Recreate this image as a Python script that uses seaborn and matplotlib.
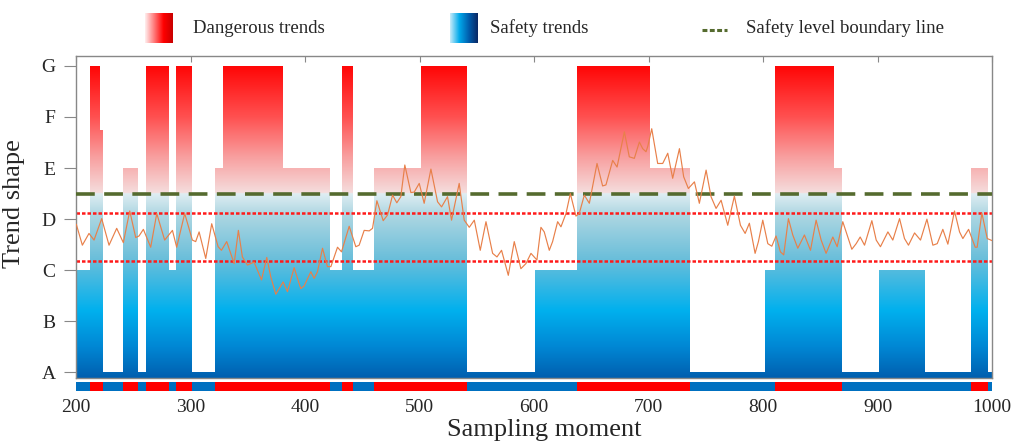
import numpy as np
import matplotlib
matplotlib.use("Agg")
import matplotlib.pyplot as plt
import seaborn as sns

sns.set_style("white")
plt.rcParams['font.family'] = ['Liberation Serif', 'DejaVu Serif']

# step levels of the trend shape (A=1 ... G=7), each level holds from its start x to the next
step_x = [200, 212, 221, 223.5, 240.5, 254, 261, 281, 287.5, 301.5, 321, 328, 381, 421.5,
          432.5, 441.5, 460.5, 501.5, 541.5, 601, 637, 701, 736, 801.5, 810, 861.5, 868.5,
          901.5, 941.5, 982, 996.5]
step_level = [3, 7, 5.75, 1, 5, 1, 7, 3, 7, 1, 5, 7, 5, 3,
              7, 3, 5, 7, 1, 3, 7, 5, 1, 3, 7, 5, 1,
              3, 1, 5, 1]

# sampled trend value (orange curve)
line_x = [200, 205.3, 211.1, 215.5, 222.2, 228.6, 235.3, 241.1, 246.7, 251.9, 254.8, 258.6,
          265.0, 270.3, 277.2, 284.0, 287.7, 294.7, 301.4, 304.3, 307.3, 313.1, 318.3, 323.9,
          326.8, 331.4, 337.9, 341.6, 345.1, 349.5, 355.3, 361.8, 366.4, 369.9, 374.3, 380.7,
          384.5, 390.3, 396.1, 399.0, 404.9, 407.8, 410.7, 415.1, 419.4, 422.4, 428.2, 431.7,
          438.4, 444.2, 447.1, 451.5, 455.9, 458.8, 462.6, 468.1, 471.9, 476.3, 480.0, 483.5,
          487.0, 492.3, 495.2, 499.6, 503.9, 509.8, 515.6, 519.1, 524.3, 527.8, 534.5, 538.9,
          543.3, 547.7, 552.9, 557.9, 563.7, 567.5, 571.5, 577.4, 582.6, 588.4, 592.8, 597.2,
          602.4, 605.9, 608.8, 613.2, 616.1, 620.5, 623.4, 627.8, 631.6, 636.5, 639.4, 643.8,
          648.2, 654.9, 659.8, 662.7, 668.6, 672.4, 678.8, 683.1, 687.5, 691.9, 694.8, 697.7,
          699.2, 702.7, 707.9, 712.3, 716.7, 721.0, 726.9, 730.6, 734.7, 740.0, 744.3, 750.2,
          754.5, 758.9, 763.3, 769.1, 774.9, 780.2, 784.3, 788.0, 793.0, 795.9, 799.7, 804.1,
          807.6, 811.3, 815.1, 818.0, 822.1, 825.9, 830.3, 836.1, 841.4, 846.3, 850.7, 855.0,
          860.9, 864.7, 869.6, 874.0, 877.5, 881.3, 884.8, 888.6, 895.0, 898.8, 902.5, 909.0,
          913.3, 919.2, 923.5, 927.0, 932.3, 937.5, 943.1, 948.3, 952.1, 957.0, 961.4, 967.2,
          971.6, 974.5, 979.5, 985.3, 987.0, 991.1, 995.8, 1000]
line_y = [3.90, 3.49, 3.72, 3.59, 4.01, 3.49, 3.82, 3.54, 4.16, 3.64, 3.67, 3.80,
          3.45, 4.11, 3.59, 3.78, 3.45, 4.11, 3.59, 3.56, 3.75, 3.23, 3.91, 3.46,
          3.39, 3.56, 3.13, 3.78, 3.26, 3.10, 3.16, 2.81, 3.25, 2.87, 2.53, 2.77,
          2.58, 3.05, 2.64, 2.69, 2.97, 2.84, 2.97, 3.43, 3.07, 3.07, 3.45, 3.36,
          3.86, 3.46, 3.49, 3.78, 3.77, 3.82, 4.36, 3.97, 4.08, 4.47, 4.32, 4.44,
          5.06, 4.52, 4.53, 4.70, 4.31, 4.98, 4.34, 4.24, 4.44, 3.98, 4.70, 3.98,
          3.84, 3.98, 3.39, 3.95, 3.33, 3.26, 3.39, 2.90, 3.56, 3.03, 3.13, 3.33,
          3.20, 3.84, 3.75, 3.39, 3.56, 3.95, 3.85, 4.11, 4.50, 4.06, 4.11, 4.47,
          4.31, 5.09, 4.65, 4.67, 5.15, 5.02, 5.71, 5.22, 5.19, 5.51, 5.38, 5.32,
          5.42, 5.77, 5.09, 5.09, 5.29, 4.80, 5.38, 4.83, 4.60, 4.73, 4.31, 4.96,
          4.44, 4.21, 4.37, 3.88, 4.45, 3.88, 3.72, 3.92, 3.33, 3.56, 3.98, 3.52,
          3.47, 3.67, 3.36, 3.30, 4.01, 3.69, 3.43, 3.69, 3.39, 3.98, 3.59, 3.33,
          3.65, 3.46, 3.95, 3.65, 3.41, 3.52, 3.65, 3.49, 3.97, 3.59, 3.46, 3.75,
          3.59, 4.01, 3.62, 3.49, 3.73, 3.59, 4.00, 3.49, 3.52, 3.80, 3.51, 4.16,
          3.75, 3.62, 3.80, 3.45, 3.45, 4.12, 3.62, 3.58]

shape_labels = ["A", "B", "C", "D", "E", "F", "G"]
boundary = 4.5
limit_upper = 4.12
limit_lower = 3.19

x_min, x_max = 200, 1000
y_min, y_max = 0.89, 7.2

fig = plt.figure(figsize=(10.24, 4.41), dpi=100)
ax = fig.add_axes([0.0745, 0.1429, 0.8943, 0.7308])
ax_strip = fig.add_axes([0.0745, 0.1134, 0.8943, 0.0204])

# vertical gradient: blue below the boundary, pink to red above it
stops_y = [y_min, 1.5, 2.2, 3.2, 4.1, 4.499, 4.501, 5.2, 6.0, 7.0, y_max]
stops_c = np.array([(0, 95, 175), (0, 135, 212), (0, 176, 238), (105, 190, 218),
                    (175, 215, 226), (224, 238, 243), (245, 222, 222), (248, 160, 160),
                    (255, 80, 80), (255, 5, 5), (255, 0, 0)]) / 255.0
yy = np.linspace(y_min, y_max, 800)
grad = np.stack([np.interp(yy, stops_y, stops_c[:, k]) for k in range(3)], axis=-1)
grad = grad[:, None, :]

xs = step_x + [x_max]
ys = step_level + [step_level[-1]]
coll = ax.fill_between(xs, y_min, ys, step='post', facecolor='none', edgecolor='none')
im = ax.imshow(grad, extent=[x_min, x_max, y_min, y_max], origin='lower',
               aspect='auto', interpolation='bilinear', zorder=1)
im.set_clip_path(coll.get_paths()[0], transform=ax.transData)

ax.axhline(limit_upper, color='#ff1a1a', lw=1.8, ls=(0, (1.4, 0.8)), zorder=2)
ax.axhline(limit_lower, color='#ff1a1a', lw=1.8, ls=(0, (1.4, 0.8)), zorder=2)
ax.axhline(boundary, color='#556b2f', lw=2.6, ls=(0, (5.2, 2.6)), zorder=3)

sns.lineplot(x=line_x, y=line_y, ax=ax, color='#e8804a', lw=0.85, zorder=4)

ax.set_xlim(x_min, x_max)
ax.set_ylim(y_min, y_max)
ax.set_yticks(range(1, 8))
ax.set_yticklabels(shape_labels)
ax.set_xticks(range(200, 1001, 100))
ax.tick_params(axis='x', direction='in', top=True, bottom=True, labelbottom=False,
               length=4, color='#888888')
ax.tick_params(axis='y', direction='out', left=True, length=9, color='#888888',
               labelsize=14, pad=6)
for s in ax.spines.values():
    s.set_color('#888888')
    s.set_linewidth(1.0)
ax.set_ylabel("Trend shape", fontsize=19)
ax.yaxis.set_label_coords(-0.056, 0.54)

# bottom strip: red where the shape is above the boundary, blue otherwise
seg_end = step_x[1:] + [x_max]
for x0, x1, lv in zip(step_x, seg_end, step_level):
    ax_strip.bar(x0, 1, width=x1 - x0, align='edge',
                 color='#ff0000' if lv > boundary else '#0070c0', linewidth=0)
ax_strip.set_xlim(x_min, x_max)
ax_strip.set_ylim(0, 1)
ax_strip.set_yticks([])
ax_strip.set_xticks(range(200, 1001, 100))
ax_strip.tick_params(axis='x', length=0, labelsize=14, pad=6)
for s in ax_strip.spines.values():
    s.set_visible(False)
ax_strip.set_xlabel("Sampling moment", fontsize=19, labelpad=2)
ax_strip.xaxis.label.set_x(0.511)

# legend across the top
red_leg = np.array([(255, 240, 240), (255, 120, 120), (255, 0, 0), (200, 0, 0)]) / 255.0
blue_leg = np.array([(200, 236, 250), (0, 170, 235), (0, 95, 175), (10, 40, 100)]) / 255.0
t = np.linspace(0, 1, 200)
for left, cols in [(0.1416, red_leg), (0.4395, blue_leg)]:
    lax = fig.add_axes([left, 0.9025, 0.0273, 0.068])
    pos = np.linspace(0, 1, len(cols))
    g = np.stack([np.interp(t, pos, cols[:, k]) for k in range(3)], axis=-1)[None, :, :]
    lax.imshow(g, aspect='auto', interpolation='bilinear')
    lax.axis('off')
fig.text(0.1885, 0.936, "Dangerous trends", fontsize=13.5, va='center')
fig.text(0.4785, 0.936, "Safety trends", fontsize=13.5, va='center')
fig.add_artist(plt.Line2D([0.6855, 0.710], [0.932, 0.932], color='#556b2f', lw=2.2,
                          ls=(0, (1.6, 0.8)), transform=fig.transFigure))
fig.text(0.7285, 0.936, "Safety level boundary line", fontsize=13.5, va='center')

fig.savefig("out.png", dpi=100)
